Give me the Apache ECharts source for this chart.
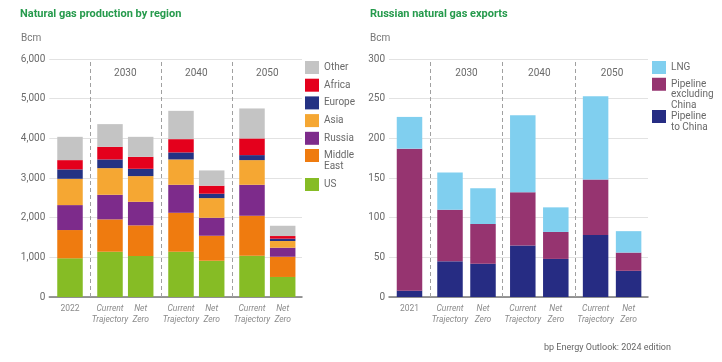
<!DOCTYPE html>
<html>
<head>
<meta charset="utf-8">
<script src="https://cdn.jsdelivr.net/npm/echarts@6/dist/echarts.min.js"></script>
<style>
html,body{margin:0;padding:0;background:#fff;}
#chart{width:722px;height:362px;}
</style>
</head>
<body>
<div id="chart"></div>
<script>
// ---------- data ----------
var leftCategories = ['2022', 'Current\nTrajectory', 'Net\nZero', 'Current\nTrajectory', 'Net\nZero', 'Current\nTrajectory', 'Net\nZero'];
var rightCategories = ['2021', 'Current\nTrajectory', 'Net\nZero', 'Current\nTrajectory', 'Net\nZero', 'Current\nTrajectory', 'Net\nZero'];
var groupLabels = ['2030', '2040', '2050'];

var prodUS         = [975, 1141, 1033, 1141, 914, 1040, 505];
var prodMiddleEast = [713, 816, 773, 982, 630, 1008, 510];
var prodRussia     = [629, 620, 594, 706, 453, 781, 227];
var prodAsia       = [663, 672, 648, 639, 496, 622, 169];
var prodEurope     = [237, 219, 184, 177, 111, 126, 60];
var prodAfrica     = [234, 318, 302, 335, 202, 420, 66];
var prodOther      = [587, 572, 504, 713, 385, 756, 259];

var expPipeChina   = [8, 45, 42, 65, 48, 78, 33];
var expPipeExcl    = [179, 65, 50, 67, 34, 70, 23];
var expLNG         = [40, 47, 45, 97, 31, 105, 27];

var leftTicks  = [0, 1000, 2000, 3000, 4000, 5000, 6000];
var rightTicks = [0, 50, 100, 150, 200, 250, 300];

// ---------- layout helpers ----------
var FONT = 'Roboto';
function makeLayout(W, p0, d1, d2, G) {
  var pos = [];
  for (var i = 0; i < 7; i++) {
    if (i === 0) pos.push(p0);
    else {
      var g = (i - 1) >> 1, k = (i - 1) & 1;
      pos.push(p0 + d1 + g * G + k * d2);
    }
  }
  var dividers = [], centers = [];
  for (var g2 = 0; g2 < 3; g2++) {
    dividers.push(p0 + d1 / 2 + g2 * G);
    centers.push(p0 + d1 + g2 * G + d2 / 2);
  }
  return {W: W, pos: pos, dividers: dividers, centers: centers};
}
var LL = makeLayout(252.7, 20.7, 40, 30.7, 71);
var RL = makeLayout(259, 20.5, 40.5, 33, 72.8);

function nearestLabel(v, arr, labels) {
  var best = 0, bd = Infinity;
  for (var i = 0; i < arr.length; i++) {
    var d = Math.abs(arr[i] - v);
    if (d < bd) { bd = d; best = i; }
  }
  return labels[best];
}

function pairData(values, pos) {
  return values.map(function (v, i) { return [v, pos[i]]; });
}

function barSeries(name, values, layout, xi, yi, stack, color, withDividers) {
  var s = {
    name: name, type: 'bar', stack: stack,
    xAxisIndex: xi, yAxisIndex: yi,
    encode: {x: 1, y: 0},
    data: pairData(values, layout.pos),
    barWidth: 25.5,
    itemStyle: {color: color},
    emphasis: {disabled: true},
    animation: false
  };
  if (withDividers) {
    s.markLine = {
      silent: true, symbol: ['none', 'none'], animation: false,
      label: {show: false},
      lineStyle: {type: [4, 3], color: '#a0a0a0', width: 1},
      data: layout.dividers.map(function (d) { return {xAxis: d}; })
    };
  }
  return s;
}

var LABEL_GREY = '#8a8a8a';
function bottomX(grid, layout, cats) {
  return {
    type: 'value', gridIndex: grid, min: 0, max: layout.W, position: 'bottom',
    splitLine: {show: false}, axisTick: {show: false},
    axisLine: {show: true, onZero: true, lineStyle: {color: '#777', width: 1.5}},
    axisLabel: {
      customValues: layout.pos, margin: 7,
      fontFamily: FONT, fontSize: 8.5, lineHeight: 10.3, color: LABEL_GREY,
      formatter: function (v) {
        var t = nearestLabel(v, layout.pos, cats);
        return t.indexOf('\n') >= 0 ? t.split('\n').map(function (s) { return '{i|' + s + '}'; }).join('\n') : t;
      },
      rich: {i: {fontStyle: 'italic', fontFamily: FONT, fontSize: 8.5, lineHeight: 10.3, color: LABEL_GREY}}
    }
  };
}
function topX(grid, layout) {
  return {
    type: 'value', gridIndex: grid, min: 0, max: layout.W, position: 'top',
    splitLine: {show: false}, axisTick: {show: false}, axisLine: {show: false},
    axisLabel: {
      inside: true, customValues: layout.centers, margin: 9,
      fontFamily: FONT, fontSize: 10, color: '#6a6a6a',
      formatter: function (v) { return nearestLabel(v, layout.centers, groupLabels); }
    }
  };
}
function yAx(grid, ticks) {
  return {
    type: 'value', gridIndex: grid, min: ticks[0], max: ticks[ticks.length - 1],
    interval: ticks[1] - ticks[0],
    axisLine: {show: false}, axisTick: {show: false},
    splitLine: {lineStyle: {color: '#e2e2e2', width: 1}},
    axisLabel: {
      margin: 4, fontFamily: FONT, fontSize: 10, color: '#6a6a6a',
      formatter: function (v) { return v.toLocaleString('en-US'); }
    }
  };
}

var legendText = {fontFamily: FONT, fontSize: 10, color: '#6a6a6a'};
function legend(names, left, top, gap, lineHeight, blanks) {
  return {
    data: names, orient: 'vertical', left: left, top: top, padding: 0,
    itemWidth: 14, itemHeight: 13, itemGap: gap, icon: 'rect',
    selectedMode: false,
    textStyle: Object.assign({lineHeight: lineHeight}, legendText),
    formatter: function (n) {
      var t = n.replace('Middle East', 'Middle\nEast')
               .replace('Pipeline excluding China', 'Pipeline\nexcluding\nChina')
               .replace('Pipeline to China', 'Pipeline\nto China');
      var pre = '';
      for (var i = 0; i < blanks; i++) pre += ' \n';
      return pre + t;
    }
  };
}

var cLNG = '#80cfef', cExcl = '#963470', cChina = '#262c83';

var option = {
  animation: false,
  textStyle: {fontFamily: FONT},
  title: [
    {text: 'Natural gas production by region', left: 20, top: 9, padding: 0,
     textStyle: {fontFamily: FONT, fontSize: 11, fontWeight: 'bold', color: '#259a4c'}},
    {text: 'Bcm', left: 21, top: 33, padding: 0,
     textStyle: {fontFamily: FONT, fontSize: 10, fontWeight: 'normal', color: '#777'}},
    {text: 'Russian natural gas exports', left: 370, top: 9, padding: 0,
     textStyle: {fontFamily: FONT, fontSize: 11, fontWeight: 'bold', color: '#259a4c'}},
    {text: 'Bcm', left: 370, top: 33, padding: 0,
     textStyle: {fontFamily: FONT, fontSize: 10, fontWeight: 'normal', color: '#777'}},
    {text: 'bp Energy Outlook: 2024 edition', left: 544, top: 343, padding: 0,
     textStyle: {fontFamily: FONT, fontSize: 9, fontWeight: 'normal', color: '#666'}}
  ],
  grid: [
    {left: 49.3, top: 59, width: LL.W, height: 238, containLabel: false},
    {left: 389, top: 59, width: RL.W, height: 238, containLabel: false}
  ],
  xAxis: [bottomX(0, LL, leftCategories), topX(0, LL), bottomX(1, RL, rightCategories), topX(1, RL)],
  yAxis: [yAx(0, leftTicks), yAx(1, rightTicks)],
  legend: [
    legend(['Other', 'Africa', 'Europe', 'Asia', 'Russia'], 305, 61, 4.7, 11, 0),
    legend(['Middle East'], 305, 139, 0, 11, 1),
    legend(['US'], 305, 178, 0, 11, 0),
    legend(['LNG'], 652, 61, 0, 10.5, 0),
    legend(['Pipeline excluding China'], 652, 57.5, 0, 10.7, 2),
    legend(['Pipeline to China'], 652, 100.75, 0, 10.5, 1)
  ],
  series: [
    barSeries('US', prodUS, LL, 0, 0, 'L', '#86bc25', true),
    barSeries('Middle East', prodMiddleEast, LL, 0, 0, 'L', '#ef7b0f', false),
    barSeries('Russia', prodRussia, LL, 0, 0, 'L', '#7d2b8b', false),
    barSeries('Asia', prodAsia, LL, 0, 0, 'L', '#f5a733', false),
    barSeries('Europe', prodEurope, LL, 0, 0, 'L', '#243283', false),
    barSeries('Africa', prodAfrica, LL, 0, 0, 'L', '#e4001c', false),
    barSeries('Other', prodOther, LL, 0, 0, 'L', '#c4c4c4', false),
    barSeries('Pipeline to China', expPipeChina, RL, 2, 1, 'R', cChina, true),
    barSeries('Pipeline excluding China', expPipeExcl, RL, 2, 1, 'R', cExcl, false),
    barSeries('LNG', expLNG, RL, 2, 1, 'R', cLNG, false)
  ]
};

var chart = echarts.init(document.getElementById('chart'), null, {renderer: 'canvas'});
chart.setOption(option);
</script>
</body>
</html>
